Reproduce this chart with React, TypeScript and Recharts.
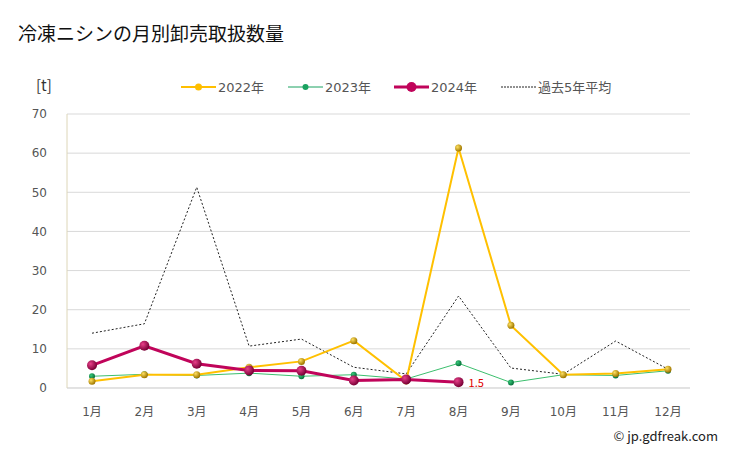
import React from "react";
import {
  CartesianGrid,
  LabelList,
  Line,
  LineChart,
  XAxis,
  YAxis,
} from "recharts";

const months = ["1月", "2月", "3月", "4月", "5月", "6月", "7月", "8月", "9月", "10月", "11月", "12月"];
const y2022 = [1.7, 3.4, 3.4, 5.3, 6.8, 12.1, 1.8, 61.3, 16.0, 3.4, 3.7, 4.8];
const y2023 = [3.0, 3.5, 3.2, 3.8, 3.0, 3.4, 2.3, 6.3, 1.4, 3.4, 3.2, 4.4];
const y2024 = [5.8, 10.8, 6.2, 4.5, 4.4, 1.9, 2.2, 1.5];
const avg5 = [14.0, 16.4, 51.3, 10.7, 12.5, 5.3, 3.6, 23.5, 5.1, 3.5, 12.0, 4.8];
const yTicks = [0, 10, 20, 30, 40, 50, 60, 70];

const data = months.map((m, i) => ({
  month: m,
  y2022: y2022[i],
  y2023: y2023[i],
  y2024: y2024[i] ?? null,
  avg: avg5[i],
}));

const FONT = '"Noto Sans CJK JP", "Noto Sans", sans-serif';
const NUM_FONT = '"DejaVu Sans", "Noto Sans CJK JP", sans-serif';

function ballDot(id: string, light: string, dark: string, r: number) {
  return (props: any) => {
    const { cx, cy, index } = props;
    if (cx == null || cy == null) return <g key={index} />;
    return (
      <g key={index}>
        <defs>
          <radialGradient id={id} cx="35%" cy="35%" r="65%">
            <stop offset="0%" stopColor={light} />
            <stop offset="100%" stopColor={dark} />
          </radialGradient>
        </defs>
        <circle cx={cx} cy={cy} r={r} fill={`url(#${id})`} />
      </g>
    );
  };
}

function LegendItem({ x, label, color, width, dash, r }: any) {
  return (
    <div style={{ position: "absolute", left: x, top: 76, display: "flex", alignItems: "center" }}>
      <svg width={36} height={20}>
        <line x1={0} x2={35} y1={11} y2={11} stroke={color} strokeWidth={width} strokeDasharray={dash} />
        {r ? <circle cx={17.5} cy={11} r={r} fill={color} /> : null}
      </svg>
      <span style={{ fontSize: 13, color: "#555", marginLeft: 1, fontFamily: NUM_FONT }}>{label}</span>
    </div>
  );
}

export default function App() {
  return (
    <div style={{ position: "absolute", left: 0, top: 0, width: 729, height: 450, background: "#fff", fontFamily: FONT }}>
      <div style={{ position: "absolute", left: 18, top: 19, fontSize: 19, color: "#111" }}>
        冷凍ニシンの月別卸売取扱数量
      </div>
      <div style={{ position: "absolute", left: 36, top: 74, fontSize: 15, color: "#333" }}>[t]</div>
      <LegendItem x={181} label="2022年" color="#ffbf00" width={2} r={3.5} />
      <LegendItem x={288} label="2023年" color="#1aa260" width={1} r={3} />
      <LegendItem x={394} label="2024年" color="#c0045a" width={3} r={5} />
      <LegendItem x={501} label="過去5年平均" color="#222" width={1} dash="2 1" />
      <div style={{ position: "absolute", right: 11, top: 426, fontSize: 13, color: "#222" }}>© jp.gdfreak.com</div>

      <LineChart
        width={729}
        height={450}
        data={data}
        margin={{ top: 114, right: 39, bottom: 32, left: 0 }}
        style={{ position: "absolute", left: 0, top: 0 }}
      >
        <CartesianGrid horizontal vertical={false} stroke="#d9d9d9" />
        <XAxis
          dataKey="month"
          padding={{ left: 25, right: 22 }}
          tickLine={false}
          axisLine={{ stroke: "#d9d9d9" }}
          tick={{ fontSize: 12, fill: "#555", fontFamily: NUM_FONT }}
          tickMargin={13}
          height={30}
          interval={0}
        />
        <YAxis
          domain={[0, 70]}
          ticks={yTicks}
          width={67}
          tickLine={false}
          axisLine={{ stroke: "#ddd6b8" }}
          tick={{ fontSize: 12, fill: "#555", fontFamily: NUM_FONT }}
          tickMargin={14}
        />
        <Line
          dataKey="avg"
          stroke="#222"
          strokeWidth={1}
          strokeDasharray="2 2"
          dot={false}
          isAnimationActive={false}
        />
        <Line
          dataKey="y2023"
          stroke="#3cbf6e"
          strokeWidth={1}
          dot={ballDot("g2023", "#35c878", "#07703a", 3)}
          activeDot={false}
          isAnimationActive={false}
        />
        <Line
          dataKey="y2022"
          stroke="#ffc000"
          strokeWidth={2}
          dot={ballDot("g2022", "#ffe060", "#a07800", 3.5)}
          activeDot={false}
          isAnimationActive={false}
        />
        <Line
          dataKey="y2024"
          stroke="#c0045a"
          strokeWidth={3}
          dot={ballDot("g2024", "#e8408a", "#7a0036", 5)}
          activeDot={false}
          connectNulls={false}
          isAnimationActive={false}
        >
          <LabelList
            dataKey="y2024"
            content={(p: any) =>
              p.index === y2024.length - 1 ? (
                <text x={p.x + 10} y={p.y + 5} fontSize={11} fill="#e00000" fontFamily={FONT}>
                  {p.value}
                </text>
              ) : null
            }
          />
        </Line>
      </LineChart>
    </div>
  );
}
